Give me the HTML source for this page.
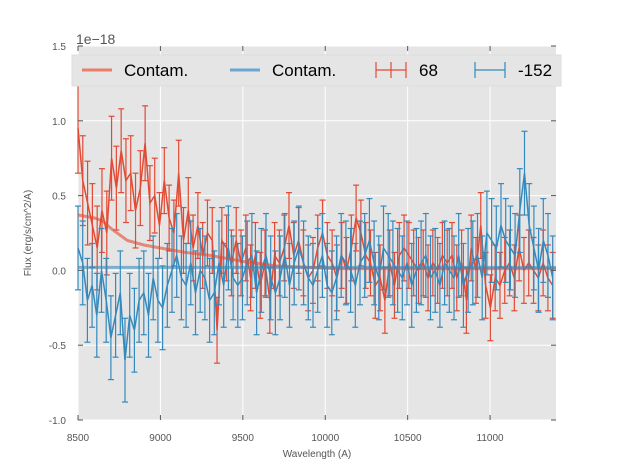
<!DOCTYPE html>
<html><head><meta charset="utf-8"><style>
body{margin:0;background:#fff;font-family:"Liberation Sans",sans-serif}
svg text{font-family:"Liberation Sans",sans-serif}
</style></head><body>
<svg id="chart" width="617" height="467" xmlns="http://www.w3.org/2000/svg">
<rect x="78" y="46" width="478" height="374" fill="#e5e5e5"/>
<g id="grid"></g>
<g id="marks"></g>
<g id="axes"></g>
<text x="76" y="44" font-size="14" fill="#555">1e−18</text>
<text x="317" y="457" font-size="10" fill="#555" text-anchor="middle">Wavelength (A)</text>
<text transform="translate(31,233) rotate(-90)" font-size="10" fill="#555" text-anchor="middle">Flux (erg/s/cm^2/A)</text>
<g>
<rect x="72" y="55" width="489" height="31" fill="#e5e5e5" stroke="#ddd"/>
<line x1="82" y1="70" x2="112" y2="70" stroke="#e8806a" stroke-width="3"/>
<text x="124" y="76" font-size="17">Contam.</text>
<line x1="230" y1="70" x2="260" y2="70" stroke="#6aa6d0" stroke-width="3"/>
<text x="272" y="76" font-size="17">Contam.</text>
<g stroke="#e24a33" stroke-width="1.2"><line x1="376" y1="70" x2="406" y2="70"/><line x1="391" y1="62" x2="391" y2="78"/><line x1="376" y1="62" x2="376" y2="78"/><line x1="406" y1="62" x2="406" y2="78"/></g>
<text x="419" y="76" font-size="17">68</text>
<g stroke="#348abd" stroke-width="1.2"><line x1="475" y1="70" x2="505" y2="70"/><line x1="475" y1="62" x2="475" y2="78"/><line x1="505" y1="62" x2="505" y2="78"/></g>
<text x="518" y="76" font-size="17">-152</text>
</g>
</svg>
<script>
const xTicks=[8500,9000,9500,10000,10500,11000];
const yTicks=[-1.0,-0.5,0.0,0.5,1.0,1.5];
const redY=[0.95,0.6,0.45,0.3,0.15,0.4,0.25,0.75,0.55,0.8,0.6,0.65,0.4,0.55,0.85,0.45,0.5,0.3,0.6,0.35,0.25,0.65,0.2,0.4,0.15,0.3,0.1,0.25,0.2,-0.4,0.2,0.15,0.05,0.2,0.05,0.15,-0.05,0.1,-0.1,0.05,-0.2,0.1,0.05,0.15,0.3,0.1,0.2,0.05,-0.05,0.0,0.15,0.25,0.1,0.05,-0.05,0.1,0.0,0.15,0.35,0.25,0.1,0.05,-0.1,-0.05,-0.2,0.05,-0.1,0.1,0.15,0.1,0.05,0.0,0.05,-0.05,0.05,0.0,0.1,0.05,0.1,-0.05,0.05,-0.2,0.15,0.0,0.3,-0.1,-0.25,-0.05,-0.1,0.0,0.05,-0.05,0.15,0.0,0.05,0.0,-0.05,0.05,-0.05,-0.1];
const redErr=[0.3,0.3,0.28,0.28,0.28,0.28,0.28,0.28,0.28,0.28,0.28,0.25,0.25,0.25,0.25,0.25,0.25,0.22,0.22,0.22];
const blueY=[0.15,0.05,-0.2,-0.1,-0.3,0.0,-0.2,-0.45,-0.3,-0.15,-0.6,-0.3,-0.4,-0.2,-0.15,-0.3,-0.05,-0.2,-0.25,-0.1,0.0,0.1,-0.05,-0.1,0.05,-0.15,0.0,-0.05,-0.2,-0.15,0.05,-0.1,0.15,-0.05,-0.1,-0.05,0.05,0.1,-0.15,0.0,0.1,-0.05,-0.15,-0.05,0.1,-0.1,0.05,0.15,0.05,-0.05,-0.1,0.0,0.1,-0.1,-0.15,-0.05,0.1,0.05,0.0,-0.1,0.05,0.1,0.2,0.05,-0.05,0.15,0.1,0.05,0.0,-0.05,0.05,-0.1,0.0,0.05,0.1,-0.05,0.0,-0.1,0.05,0.0,-0.05,0.1,-0.1,0.0,0.05,0.1,-0.05,0.25,0.2,0.15,0.3,0.2,0.15,0.1,0.4,0.65,0.3,0.15,0.0,0.2,0.1,-0.05];
const blueErr=[0.28];
const contamX=[8500,8600,8650,8700,8800,8900,9000,9150,9300,9500,9700,9900,10100,11400];
const contamRed=[0.37,0.35,0.33,0.28,0.2,0.17,0.15,0.12,0.1,0.06,0.03,0.02,0.01,0.01];
const contamBlue=[0.02,0.02,0.02,0.02,0.02,0.02,0.02,0.02,0.02,0.02,0.02,0.02,0.02,0.02];
const NS="http://www.w3.org/2000/svg";
const X0=78,X1=556,Y0=46,Y1=420;
const sx=v=>X0+(v-8500)/(11400-8500)*(X1-X0);
const sy=v=>Y1-(v+1.0)/2.5*(Y1-Y0);
function mk(t,a,p){const e=document.createElementNS(NS,t);for(const k in a)e.setAttribute(k,a[k]);p.appendChild(e);return e;}
const grid=document.getElementById('grid'),axes=document.getElementById('axes'),marks=document.getElementById('marks');
xTicks.forEach(t=>{const l=mk('line',{x1:sx(t),x2:sx(t),y1:Y0,y2:Y1,stroke:'#fff','stroke-width':1},grid);


mk('line',{x1:sx(t),x2:sx(t),y1:Y1,y2:Y1-5,stroke:'#555'},axes);
mk('line',{x1:sx(t),x2:sx(t),y1:Y0,y2:Y0+5,stroke:'#555'},axes);
const tx=mk('text',{x:sx(t),y:Y1+21,'font-size':10,fill:'#555','text-anchor':'middle'},axes);tx.textContent=t;

});
yTicks.forEach(t=>{const l=mk('line',{x1:X0,x2:X1,y1:sy(t),y2:sy(t),stroke:'#fff','stroke-width':1},grid);


mk('line',{x1:X0,x2:X0+5,y1:sy(t),y2:sy(t),stroke:'#555'},axes);
mk('line',{x1:X1,x2:X1-5,y1:sy(t),y2:sy(t),stroke:'#555'},axes);
const tx=mk('text',{x:X0-12,y:sy(t)+4,'font-size':10,fill:'#555','text-anchor':'end'},axes);tx.textContent=t.toFixed(1);

});
function series(ys,errs,color,name){const n=ys.length,step=2880/(n-1);const g=mk('g',{stroke:color,'stroke-width':1.2,fill:'none'},marks);


let d='';ys.forEach((y,i)=>{const x=sx(8500+i*step),e=errs[Math.min(i,errs.length-1)];
const a=sy(y+e),b=sy(y-e);mk('line',{x1:x,x2:x,y1:a,y2:b},g);mk('line',{x1:x-3,x2:x+3,y1:a,y2:a},g);mk('line',{x1:x-3,x2:x+3,y1:b,y2:b},g);
d+=(i?'L':'M')+x.toFixed(1)+','+sy(y).toFixed(1);});
mk('path',{d:d,'stroke-width':1.5},g);}
function cline(ys,color,name){let d='';contamX.forEach((x,i)=>{d+=(i?'L':'M')+sx(x).toFixed(1)+','+sy(ys[i]).toFixed(1);});
const p=mk('path',{d:d,stroke:color,'stroke-width':3,fill:'none','stroke-opacity':0.6},marks);

}
series(redY,redErr,'#e24a33','series-68');
series(blueY,blueErr,'#348abd','series-152');
cline(contamRed,'#e24a33','contam-red-line');
cline(contamBlue,'#348abd','contam-blue-line');
</script>
</body></html>
